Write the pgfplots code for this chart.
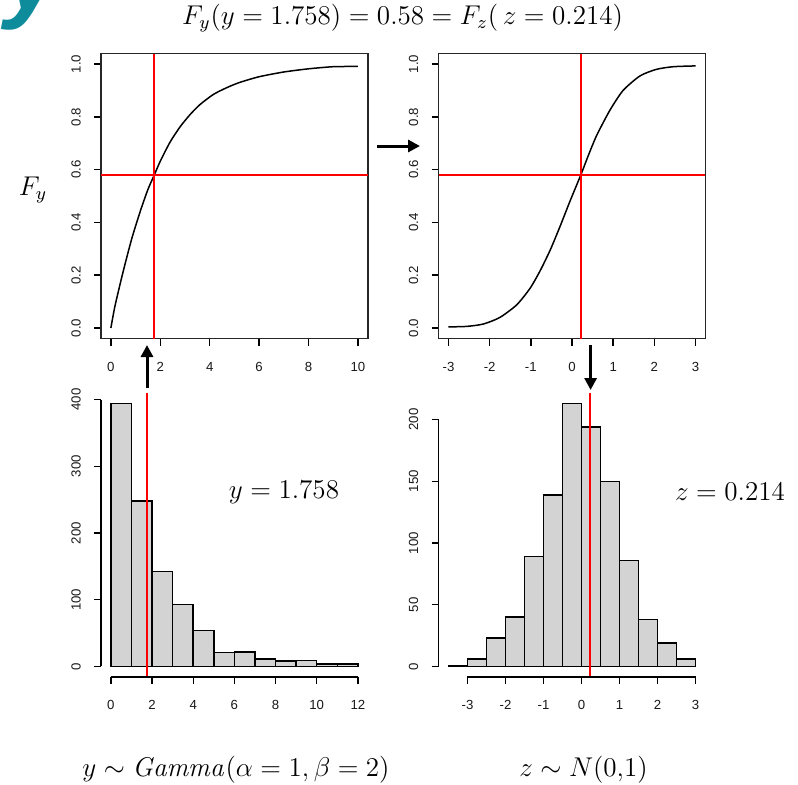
\documentclass[border=0pt]{standalone}
\usepackage[no-math]{fontspec}
\setmainfont{Liberation Sans}
\usepackage{pgfplots}
\pgfplotsset{compat=1.18}
\usetikzlibrary{arrows.meta}

\definecolor{histgray}{HTML}{D3D3D3}
\definecolor{slideteal}{HTML}{0E8C9C}

\pgfplotsset{
  rpanel/.style={
    scale only axis, width=133.4pt, clip=false,
    tick align=outside, major tick length=3.5pt, tick pos=left,
    tick style={black, line width=0.7pt},
    /pgf/number format/assume math mode=true,
    ticklabel style={font=\fontsize{6.6}{7}\selectfont, text=black!90},
    xticklabel style={anchor=center, yshift=-10.5pt},
    yticklabel style={xshift=-9pt, rotate=90, anchor=center},
  },
  rbox/.style={rpanel, height=142.5pt, axis line style={line width=0.75pt, black!85}},
  rhist/.style={rpanel, height=142pt,
    axis x line*=bottom, axis y line*=left, axis line style={draw=none}},
}
\tikzset{mathlbl/.style={scale=1.13}}

\begin{document}
\begin{tikzpicture}
\useasboundingbox (0,0) rectangle (399pt,-392pt);

% top left: F_y
\begin{axis}[rbox, at={(50.5pt,-26.75pt)}, anchor=north west,
  xmin=-0.4, xmax=10.4, ymin=-0.04, ymax=1.04,
  xtick={0,2,...,10}, ytick={0,0.2,...,1},
  yticklabel style={/pgf/number format/fixed, /pgf/number format/fixed zerofill,
    /pgf/number format/precision=1}]
\addplot[black, line width=0.75pt, smooth, tension=0.4] coordinates {
  (0,0)(0.17,0.085)(0.5,0.215)(0.85,0.34)(1.2,0.445)(1.5,0.525)(1.758,0.58)
  (2.0,0.632)(2.4,0.705)(2.8,0.762)(3.2,0.808)(3.6,0.846)(4.15,0.885)(4.7,0.911)
  (5.2,0.93)(6,0.952)(7,0.97)(8,0.982)(9,0.99)(10,0.991)};
\addplot[draw=red, line width=0.9pt] coordinates {(1.758,-0.04)(1.758,1.04)};
\addplot[draw=red, line width=0.9pt] coordinates {(-0.4,0.58)(10.4,0.58)};
\end{axis}

% top right: F_z
\begin{axis}[rbox, at={(219.3pt,-26.75pt)}, anchor=north west,
  xmin=-3.24, xmax=3.24, ymin=-0.04, ymax=1.04,
  xtick={-3,...,3}, ytick={0,0.2,...,1},
  yticklabel style={/pgf/number format/fixed, /pgf/number format/fixed zerofill,
    /pgf/number format/precision=1}]
\addplot[black, line width=0.75pt, smooth, tension=0.4] coordinates {
  (-3,0.004)(-2.55,0.006)(-2.15,0.015)(-1.75,0.04)(-1.34,0.088)(-1.02,0.15)
  (-0.78,0.215)(-0.53,0.295)(-0.29,0.385)(-0.05,0.48)(0.214,0.58)(0.4,0.655)
  (0.6,0.73)(0.92,0.825)(1.24,0.9)(1.65,0.955)(2.05,0.98)(2.46,0.99)(3,0.993)};
\addplot[draw=red, line width=0.9pt] coordinates {(0.214,-0.04)(0.214,1.04)};
\addplot[draw=red, line width=0.9pt] coordinates {(-3.24,0.58)(3.24,0.58)};
\end{axis}

% bottom left: histogram of y
\begin{axis}[rhist, at={(50.5pt,-196.5pt)}, anchor=north west,
  xmin=-0.48, xmax=12.48, ymin=-15.8, ymax=409.8,
  xtick={0,2,...,12}, ytick={0,100,...,400}]
\addplot[ybar, bar width=1, bar shift=0pt, fill=histgray, draw=black, line width=0.75pt]
  coordinates {(0.5,394)(1.5,248)(2.5,142)(3.5,93)(4.5,54)(5.5,21)(6.5,22)
  (7.5,11)(8.5,8.5)(9.5,9)(10.5,4)(11.5,4)};
\addplot[draw=red, line width=0.9pt] coordinates {(1.758,-15.8)(1.758,409.8)};
\draw[line width=0.75pt] (axis cs:0,-15.8) -- (axis cs:12,-15.8);
\draw[line width=0.75pt] (axis cs:-0.48,0) -- (axis cs:-0.48,400);
\end{axis}

% bottom right: histogram of z
\begin{axis}[rhist, at={(219.3pt,-196.5pt)}, anchor=north west,
  xmin=-3.76, xmax=3.26, ymin=-8.52, ymax=221.5,
  xtick={-3,...,3}, ytick={0,50,...,200}]
\addplot[ybar, bar width=0.5, bar shift=0pt, fill=histgray, draw=black, line width=0.75pt]
  coordinates {(-3.25,1)(-2.75,6)(-2.25,23)(-1.75,40)(-1.25,89)(-0.75,139)
  (-0.25,213)(0.25,194)(0.75,150)(1.25,86)(1.75,38)(2.25,19)(2.75,6)};
\addplot[draw=red, line width=0.9pt] coordinates {(0.214,-8.52)(0.214,221.5)};
\draw[line width=0.75pt] (axis cs:-3,-8.52) -- (axis cs:3,-8.52);
\draw[line width=0.75pt] (axis cs:-3.76,0) -- (axis cs:-3.76,200);
\end{axis}

% annotations
\node[anchor=base west, text=slideteal, inner sep=0,
  font=\fontsize{50}{50}\selectfont\bfseries\itshape] at (2.5pt,-4.5pt) {y};
\node[mathlbl] at (201.25pt,-9.25pt) {\fontsize{12}{14}\selectfont
  $F_y(y=1.758)=0.58=F_z(\,z=0.214)$};
\node[mathlbl] at (16.5pt,-95pt) {\fontsize{12}{14}\selectfont $F_y$};
\node[mathlbl] at (142pt,-246pt) {\fontsize{12}{14}\selectfont $y=1.758$};
\node[mathlbl] at (365pt,-246pt) {\fontsize{12}{14}\selectfont $z=0.214$};
\node[mathlbl] at (118pt,-385pt) {\fontsize{12}{14}\selectfont
  $y\sim\mathit{Gamma}(\alpha=1,\beta=2)$};
\node[mathlbl] at (291.75pt,-385pt) {\fontsize{12}{14}\selectfont $z\sim N(0{,}1)$};

\draw[line width=1.5pt, -{Triangle[length=6pt,width=6pt]}]
  (73.5pt,-194pt) -- (73.5pt,-172.5pt);
\draw[line width=1.5pt, -{Triangle[length=6pt,width=6pt]}]
  (188.5pt,-73pt) -- (210pt,-73pt);
\draw[line width=1.5pt, -{Triangle[length=6pt,width=6pt]}]
  (295.3pt,-172.5pt) -- (295.3pt,-195pt);
\end{tikzpicture}
\end{document}
